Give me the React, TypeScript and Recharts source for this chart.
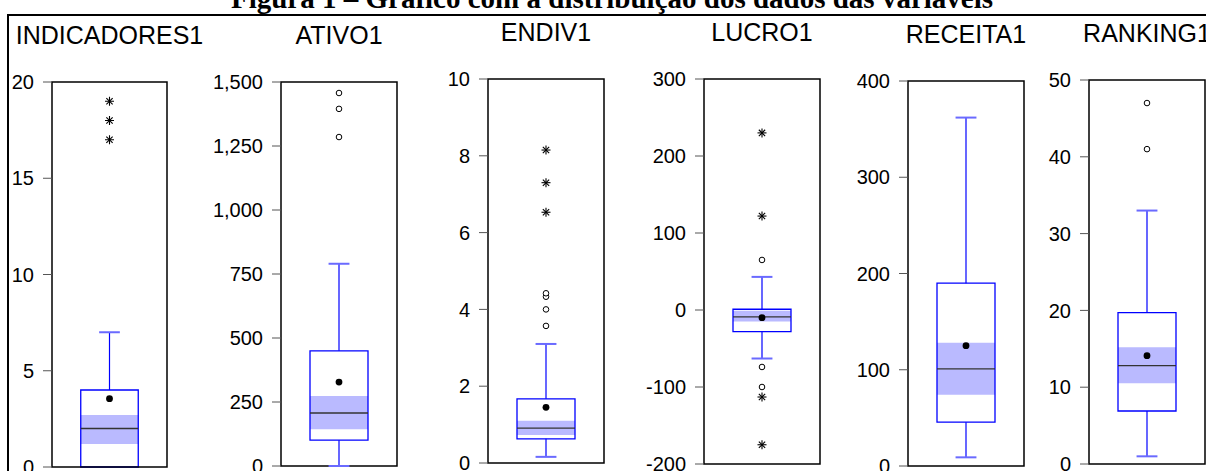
import React from 'react';
import {
  ScatterChart,
  Scatter,
  XAxis,
  YAxis,
  ReferenceArea,
  ReferenceLine,
} from 'recharts';

// box plot statistics, one entry per variable
const variables = ['INDICADORES1', 'ATIVO1', 'ENDIV1', 'LUCRO1', 'RECEITA1', 'RANKING1'];
const lowerWhisker = [0, 0, 0.16, -63, 9, 1];
const q1 = [0, 101, 0.63, -28, 45.5, 6.9];
const median = [2, 207, 0.91, -9, 101, 12.8];
const q3 = [4, 450, 1.67, 1, 190, 19.7];
const upperWhisker = [7, 790, 3.1, 43, 362, 33];
const means = [3.55, 328, 1.45, -10, 125, 14.1];
const medianCiLow = [1.2, 144, 0.73, -15, 74, 10.5];
const medianCiHigh = [2.7, 273, 1.1, -1, 128, 15.2];
const nearOutliers = [[], [1285, 1395, 1457], [3.57, 4.0, 4.33, 4.42], [65, -74, -100], [], [41, 47]];
const farOutliers = [[17, 18, 19], [], [6.53, 7.3, 8.15], [230, 122, -113, -175], [], []];
const yTicks = [
  [0, 5, 10, 15, 20],
  [0, 250, 500, 750, 1000, 1250, 1500],
  [0, 2, 4, 6, 8, 10],
  [-200, -100, 0, 100, 200, 300],
  [0, 100, 200, 300, 400],
  [0, 10, 20, 30, 40, 50],
];

const title = 'Figura 1 – Gráfico com a distribuição dos dados das variáveis';

// plot rectangles in page pixels
const plots = [
  { left: 52, top: 82, width: 115, height: 385 },
  { left: 281, top: 82, width: 116, height: 384 },
  { left: 488, top: 79, width: 116, height: 384 },
  { left: 704, top: 79, width: 116, height: 385 },
  { left: 908, top: 81, width: 116, height: 385 },
  { left: 1089, top: 80, width: 116, height: 384 },
];

const SANS = '"Liberation Sans", Arial, sans-serif';
const AXIS_W = 90;
const BLUE = '#0000ff';

const Asterisk = (props: any) => {
  const { cx, cy } = props;
  const r = 4.5;
  const d = r * 0.7;
  return (
    <g stroke="#000" strokeWidth={1.1}>
      <line x1={cx} y1={cy - r} x2={cx} y2={cy + r} />
      <line x1={cx - r} y1={cy} x2={cx + r} y2={cy} />
      <line x1={cx - d} y1={cy - d} x2={cx + d} y2={cy + d} />
      <line x1={cx - d} y1={cy + d} x2={cx + d} y2={cy - d} />
    </g>
  );
};

const OpenCircle = (props: any) => (
  <circle cx={props.cx} cy={props.cy} r={2.8} fill="#fff" stroke="#000" strokeWidth={1} />
);

const MeanDot = (props: any) => <circle cx={props.cx} cy={props.cy} r={3.4} fill="#000" />;

const BoxPanel = ({ i }: { i: number }) => {
  const p = plots[i];
  const ticks = yTicks[i];
  const yMin = ticks[0];
  const yMax = ticks[ticks.length - 1];
  const near = nearOutliers[i].map((v) => ({ x: 0.5, y: v }));
  const far = farOutliers[i].map((v) => ({ x: 0.5, y: v }));

  return (
    <div style={{ position: 'absolute', left: p.left - AXIS_W, top: p.top - 10 }}>
      <ScatterChart
        width={AXIS_W + p.width + 4}
        height={p.height + 20}
        margin={{ top: 10, right: 4, bottom: 10, left: 0 }}
      >
        <XAxis type="number" dataKey="x" domain={[0, 1]} hide />
        <YAxis
          type="number"
          dataKey="y"
          domain={[yMin, yMax]}
          ticks={ticks}
          interval={0}
          width={AXIS_W}
          allowDataOverflow
          axisLine={false}
          tickSize={9}
          tickMargin={9}
          tickLine={{ stroke: '#555' }}
          tick={{ fill: '#000', fontSize: 20, fontFamily: SANS }}
          tickFormatter={(v) => v.toLocaleString('en-US')}
        />
        <ReferenceArea
          x1={0.25} x2={0.75} y1={medianCiLow[i]} y2={medianCiHigh[i]}
          fill="#babaff" fillOpacity={1} stroke="none" ifOverflow="visible"
        />
        <ReferenceArea
          x1={0.25} x2={0.75} y1={q1[i]} y2={q3[i]}
          fill="none" stroke={BLUE} strokeWidth={1.3} ifOverflow="visible"
        />
        <ReferenceLine
          segment={[{ x: 0.25, y: median[i] }, { x: 0.75, y: median[i] }]}
          stroke="#333" strokeWidth={1.3} ifOverflow="visible"
        />
        <ReferenceLine
          segment={[{ x: 0.5, y: q3[i] }, { x: 0.5, y: upperWhisker[i] }]}
          stroke={BLUE} strokeWidth={1.2} ifOverflow="visible"
        />
        <ReferenceLine
          segment={[{ x: 0.41, y: upperWhisker[i] }, { x: 0.59, y: upperWhisker[i] }]}
          stroke="#6a6aff" strokeWidth={2} ifOverflow="visible"
        />
        {lowerWhisker[i] < q1[i] && (
          <ReferenceLine
            segment={[{ x: 0.5, y: q1[i] }, { x: 0.5, y: lowerWhisker[i] }]}
            stroke={BLUE} strokeWidth={1.2} ifOverflow="visible"
          />
        )}
        {lowerWhisker[i] < q1[i] && (
          <ReferenceLine
            segment={[{ x: 0.41, y: lowerWhisker[i] }, { x: 0.59, y: lowerWhisker[i] }]}
            stroke="#6a6aff" strokeWidth={2} ifOverflow="visible"
          />
        )}
        <Scatter data={[{ x: 0.5, y: means[i] }]} shape={<MeanDot />} isAnimationActive={false} />
        <Scatter data={near} shape={<OpenCircle />} isAnimationActive={false} />
        <Scatter data={far} shape={<Asterisk />} isAnimationActive={false} />
        <ReferenceArea
          x1={0} x2={1} y1={yMin} y2={yMax}
          fill="none" stroke="#000" strokeWidth={1.5} ifOverflow="visible"
        />
      </ScatterChart>
    </div>
  );
};

export default function App() {
  return (
    <div
      style={{
        position: 'absolute',
        left: 0,
        top: 0,
        width: 1206,
        height: 471,
        overflow: 'hidden',
        background: '#fff',
      }}
    >
      <div
        style={{
          position: 'absolute',
          left: 7,
          top: 14,
          width: 1300,
          height: 600,
          borderTop: '2px solid #000',
          borderLeft: '2px solid #000',
        }}
      />
      <svg width={1206} height={471} style={{ position: 'absolute', left: 0, top: 0 }}>
        <text
          x={612}
          y={8}
          textAnchor="middle"
          fontFamily='"Liberation Serif", "Times New Roman", serif'
          fontWeight="bold"
          fontSize={29}
          fill="#000"
        >
          {title}
        </text>
        {variables.map((name, i) => (
          <text
            key={name}
            x={plots[i].left + plots[i].width / 2}
            y={plots[i].top - 38}
            textAnchor="middle"
            fontFamily={SANS}
            fontSize={25}
            fill="#000"
          >
            {name}
          </text>
        ))}
      </svg>
      {variables.map((name, i) => (
        <BoxPanel key={name} i={i} />
      ))}
    </div>
  );
}
